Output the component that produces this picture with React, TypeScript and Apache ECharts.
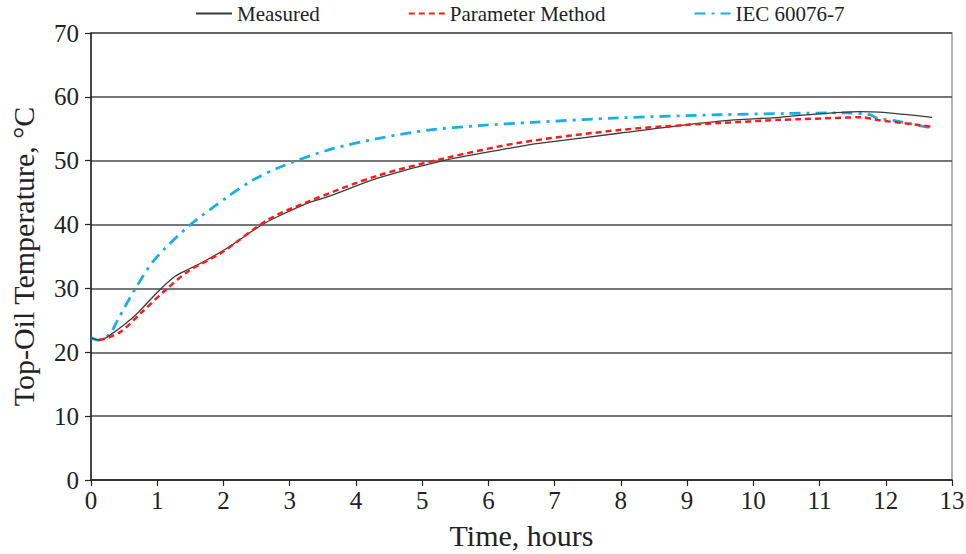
import React, { useEffect, useRef } from "react";
import * as echarts from "echarts";

// Top-oil temperature rise over a heat-run test: [hours, °C]
const measured: [number, number][] = [
  [0, 22.2], [0.14, 21.9], [0.26, 22.5], [0.5, 24.3], [0.71, 26.2], [0.9, 28.3],
  [1.06, 30.0], [1.27, 31.9], [1.47, 33.0], [1.72, 34.3], [2.07, 36.4], [2.57, 39.9],
  [2.83, 41.3], [3.28, 43.4], [3.59, 44.4], [4.34, 47.3], [5.35, 50.1], [6.46, 52.2],
  [6.76, 52.7], [7.97, 54.3], [9.49, 56.2], [10.4, 56.8], [10.7, 57.1], [11.6, 57.7],
  [11.9, 57.6], [12.7, 56.8],
];

const parameterMethod: [number, number][] = [
  [0.12, 21.9], [0.26, 22.3], [0.46, 23.3], [0.76, 26.2], [1.11, 29.6], [1.47, 32.7],
  [1.97, 35.6], [2.68, 40.8], [3.28, 43.6], [4.34, 47.7], [5.35, 50.4], [6.46, 52.8],
  [7.97, 54.8], [8.98, 55.6], [9.49, 55.9], [10.4, 56.4], [10.7, 56.5], [11.65, 56.8],
  [11.86, 56.4], [12.5, 55.6], [12.7, 55.3],
];

const iec60076: [number, number][] = [
  [0, 22.3], [0.1, 21.9], [0.28, 22.8], [0.41, 25.2], [0.66, 29.8], [0.96, 34.5],
  [1.47, 39.7], [2.07, 44.4], [2.45, 47.0], [2.83, 48.9], [3.59, 51.7], [4.34, 53.5],
  [5.1, 54.8], [5.86, 55.5], [6.66, 56.0], [7.97, 56.7], [9.49, 57.2], [10.5, 57.4],
  [11.4, 57.5], [11.76, 57.2], [11.86, 56.7], [12.17, 56.2], [12.7, 55.1],
];

const seriesNames = ["Measured", "Parameter Method", "IEC 60076-7"];

const FONT = "'Liberation Serif', 'Times New Roman', serif";

export default function App() {
  const ref = useRef<HTMLDivElement>(null);

  useEffect(() => {
    if (!ref.current) return;
    const chart = echarts.init(ref.current, undefined, { renderer: "svg" });
    chart.setOption({
      animation: false,
      backgroundColor: "#ffffff",
      textStyle: { fontFamily: FONT },
      legend: {
        left: 190,
        top: -2,
        itemWidth: 36,
        itemHeight: 14,
        itemGap: 88,
        // line-only legend keys (no marker dot)
        itemStyle: { color: "transparent", borderWidth: 0, opacity: 0 },
        textStyle: { fontFamily: FONT, fontSize: 21, color: "#222" },
        data: seriesNames,
      },
      grid: {
        left: 91,
        right: 14,
        top: 33,
        bottom: 74,
        outerBoundsMode: "none",
        show: true,
        borderColor: "#9a9a9a",
        borderWidth: 1.5,
      },
      xAxis: {
        type: "value",
        min: 0,
        max: 13,
        interval: 1,
        name: "Time, hours",
        nameLocation: "middle",
        nameGap: 40,
        nameTextStyle: { fontFamily: FONT, fontSize: 30, color: "#222" },
        axisLine: { show: true, lineStyle: { color: "#222", width: 1.5 } },
        axisTick: { show: true, length: 6, lineStyle: { color: "#222", width: 1.2 } },
        axisLabel: { fontFamily: FONT, fontSize: 25, color: "#222", margin: 8 },
        splitLine: { show: false },
      },
      yAxis: {
        type: "value",
        min: 0,
        max: 70,
        interval: 10,
        name: "Top-Oil Temperature, °C",
        nameLocation: "middle",
        nameGap: 53,
        nameTextStyle: { fontFamily: FONT, fontSize: 30, color: "#222" },
        axisLine: { show: true, lineStyle: { color: "#222", width: 1.5 } },
        axisTick: { show: true, length: 6, lineStyle: { color: "#222", width: 1.2 } },
        axisLabel: { fontFamily: FONT, fontSize: 25, color: "#222", margin: 12 },
        splitLine: { show: true, lineStyle: { color: "#4a4a4a", width: 1.5 } },
      },
      series: [
        {
          name: seriesNames[0],
          type: "line",
          data: measured,
          smooth: 0.3,
          symbol: "none",
          lineStyle: { color: "#3a3a3a", width: 1.3 },
          itemStyle: { color: "#3a3a3a" },
          z: 3,
        },
        {
          name: seriesNames[1],
          type: "line",
          data: parameterMethod,
          smooth: 0.3,
          symbol: "none",
          lineStyle: { color: "#ff1a1a", width: 2.5, type: [6, 4] },
          itemStyle: { color: "#ff1a1a" },
          z: 4,
        },
        {
          name: seriesNames[2],
          type: "line",
          data: iec60076,
          smooth: 0.3,
          symbol: "none",
          lineStyle: { color: "#1aaee8", width: 2.8, type: [11, 6, 3, 6] },
          itemStyle: { color: "#1aaee8" },
          z: 2,
        },
      ],
    });
    return () => chart.dispose();
  }, []);

  return (
    <div
      ref={ref}
      style={{ width: 966, height: 554, position: "absolute", left: 0, top: 0 }}
    />
  );
}
